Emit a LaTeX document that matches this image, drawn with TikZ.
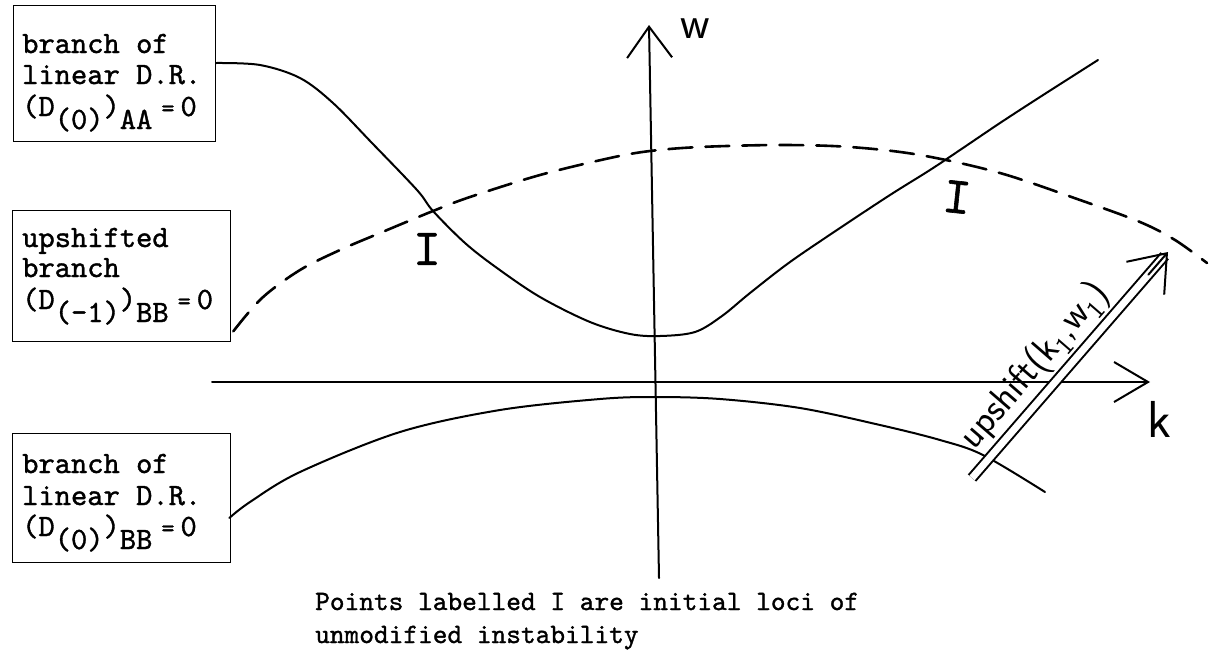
\documentclass[tikz,border=0pt]{standalone}
\usepackage{fontspec}
\newfontfamily\twfont{lmmono10-regular.otf}[FakeBold=1.2]
\usetikzlibrary{arrows.meta,calc}
\newcommand{\sbx}[1]{\raisebox{-13pt}{#1}}
\newcommand{\eqz}{\hspace{9pt}{\fontsize{25}{25}\selectfont=}\hspace{6pt}0}
\begin{document}
\begin{tikzpicture}[x=1pt,y=-1pt,
  box/.style={draw, line width=1.3pt, inner sep=0pt, anchor=north west},
  boxtext/.style={anchor=base west, inner sep=0pt, font=\fontsize{31}{30}\selectfont\twfont},
  captext/.style={anchor=base west, inner sep=0pt, font=\fontsize{28}{30}\selectfont\twfont},
  curve/.style={line width=2pt, line cap=round, line join=round},
  dashcurve/.style={line width=2.6pt, dash pattern=on 24pt off 13pt, line cap=round},
  axisline/.style={line width=2pt, line cap=round},
  hand/.style={inner sep=0pt, font=\sffamily},
  ilabel/.style={inner sep=0pt, font=\fontsize{52}{52}\selectfont\twfont},
]
\useasboundingbox (0,0) rectangle (1212,662);

% boxes
\node[box, minimum width=202pt, minimum height=136pt] (b1) at (13,5) {};
\node[box, minimum width=218pt, minimum height=131pt] (b2) at (12,210) {};
\node[box, minimum width=218pt, minimum height=129pt] (b3) at (12,433) {};

\node[boxtext] (t11) at (22,53) {branch of};
\node[boxtext] (t12) at (22,84) {linear D.R.};
\node[boxtext] (t13) at (22,116) {(D\sbx{(0)})\sbx{AA}\eqz};

\node[boxtext] (t21) at (22,247) {upshifted};
\node[boxtext] (t22) at (22,277) {branch};
\node[boxtext] (t23) at (22,309) {(D\sbx{(-1)})\sbx{BB}\eqz};

\node[boxtext] (t31) at (22,473) {branch of};
\node[boxtext] (t32) at (22,505) {linear D.R.};
\node[boxtext] (t33) at (22,536) {(D\sbx{(0)})\sbx{BB}\eqz};

% axes
\coordinate (wb) at (659,578);
\coordinate (wt) at (649,25);
\coordinate (kl) at (212,382);
\coordinate (kr) at (1150,382);
\draw[axisline, -{Straight Barb[length=31pt,width=45pt]}] (wb) -- (wt);
\draw[axisline, -{Straight Barb[length=34pt,width=40pt]}] (kl) -- (kr);
\node[hand, font=\fontsize{46}{46}\selectfont\sffamily] (wl) at (695,29) {w};
\node[hand, font=\fontsize{52}{52}\selectfont\sffamily] (kla) at (1159,419) {k};

% curve A (solid, from box 1)
\coordinate (a0) at ($(b1.north east)+(0,58)$);
\draw[curve] plot[smooth, tension=0.55] coordinates {
 (a0) (260,65) (300,78) (333,103) (372,143) (417,190) (433,211) (465,243)
 (497,268) (540,297) (590,322) (630,334) (660,336) (695,332) (722,316)
 (750,293) (790,262) (840,228) (890,195) (930,170) (960,150) (1000,123)
 (1040,97) (1098,60)};

% dashed upshifted branch (from box 2)
\coordinate (d0) at ($(b2.south east)+(2,-11)$);
\draw[dashcurve] plot[smooth, tension=0.55] coordinates {
 (d0) (262,298) (300,270) (340,250) (380,233) (433,211) (470,197) (540,175)
 (610,158) (650,151) (700,147) (780,145) (850,147) (920,155) (1000,173)
 (1080,200) (1140,222) (1175,240) (1207,263)};

% bottom branch (from box 3)
\coordinate (c0) at ($(b3.north east)+(-2,85)$);
\draw[curve] plot[smooth, tension=0.55] coordinates {
 (c0) (250,502) (300,472) (400,432) (500,410) (600,399) (655,397) (720,399)
 (800,408) (880,425) (940,440) (983,455) (1045,492)};

% I labels
\node[ilabel] (i1) at (427,249) {I};
\node[ilabel, rotate=-6] (i2) at (957,197) {I};

% upshift arrow
\coordinate (us) at (972,478);
\coordinate (ue) at (1168,252);
\draw[line width=2pt, double, double distance=7pt] (us) -- ($(ue)!5pt!(us)$);
\draw[line width=2pt, line cap=round, -{Straight Barb[length=33pt,width=50pt]}] ($(ue)!30pt!(us)$) -- (ue);
\path (us) -- (ue) node[pos=0.42, sloped, above=7pt, hand, font=\fontsize{38}{38}\selectfont\sffamily] (ul) {upshift(k\textsubscript{1},w\textsubscript{1})};

% caption
\node[captext] (cap1) at (315,610) {Points labelled I are initial loci of};
\node[captext] (cap2) at (315,643) {unmodified instability};
\end{tikzpicture}
\end{document}
